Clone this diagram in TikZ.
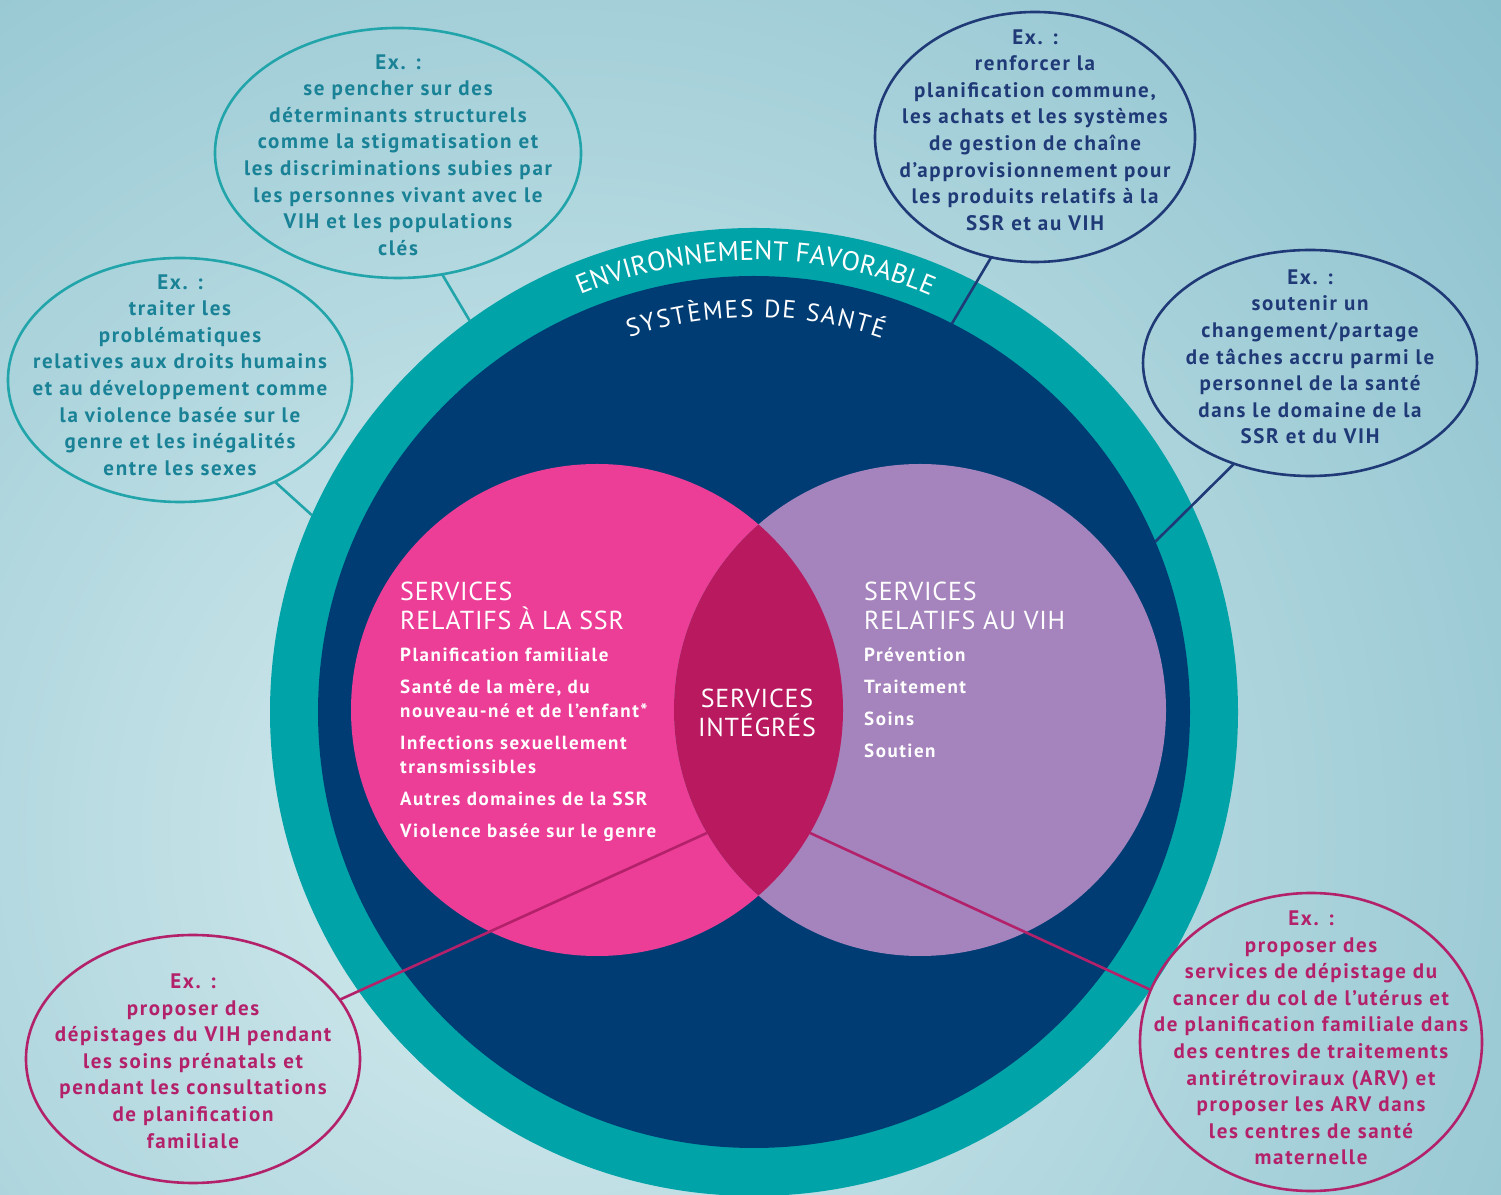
\documentclass[tikz,border=0pt]{standalone}
\usepackage{fontspec}
\setmainfont{PT Sans}[LetterSpace=8]
\newfontfamily\arcfont{PT Sans}
\newfontfamily\titlefont{PT Sans}[LetterSpace=3]
\usetikzlibrary{shapes.geometric,decorations.text}

\definecolor{bgin}{HTML}{D6ECEF}
\definecolor{bgout}{HTML}{88BFCC}
\definecolor{envteal}{HTML}{00A4A8}
\definecolor{sysnavy}{HTML}{003C74}
\definecolor{ssrpink}{HTML}{EC3E97}
\definecolor{vihmauve}{HTML}{A583BC}
\definecolor{intmag}{HTML}{B8195F}
\definecolor{tealink}{HTML}{1A8296}
\definecolor{tealline}{HTML}{22A5AA}
\definecolor{navyink}{HTML}{1F3A77}
\definecolor{magink}{HTML}{B3216B}

\begin{document}
\begin{tikzpicture}[x=1pt,y=1pt,
	disc/.style={circle,inner sep=0pt,outer sep=0pt},
	bubble/.style={ellipse,draw,line width=2.6pt,inner sep=0pt,outer sep=0pt},
	bubtext/.style={align=center,inner sep=0pt,font=\bfseries\fontsize{21}{26.6}\selectfont},
	link/.style={line width=2.6pt},
	title/.style={align=left,anchor=north west,inner sep=0pt,text=white,font=\titlefont\fontsize{26}{29}\selectfont},
	items/.style={align=left,anchor=north west,inner sep=0pt,text=white,font=\bfseries\fontsize{19}{24}\selectfont}]
	
	\useasboundingbox (0,0) rectangle (1501,1194);
	\begin{scope}
		\clip (0,0) rectangle (1501,1194);
		\shade[inner color=bgin,outer color=bgout] (560,360) circle (1300);
	\end{scope}
	
	% les cercles
	\node[disc,fill=envteal,minimum size=968pt] (env) at (754,482) {};
	\node[disc,fill=sysnavy,minimum size=872pt] (sys) at (754,482) {};
	\node[disc,fill=ssrpink,minimum size=492pt] (ssr) at (597,484) {};
	\node[disc,fill=vihmauve,minimum size=492pt] (vih) at (920,484) {};
	\begin{scope}
		\clip (ssr.center) circle (246);
		\fill[intmag] (vih.center) circle (246);
	\end{scope}
	
	% textes en arc
	\path[decorate,decoration={text along path,text align=fit to path,text color=white,
		text={|\arcfont\fontsize{27}{27}\selectfont|ENVIRONNEMENT FAVORABLE}}]
		([shift={(112.6:452)}]env.center) arc[start angle=112.6,end angle=67,radius=452];
	\path[decorate,decoration={text along path,text align=fit to path,text color=white,
		text={|\arcfont\fontsize{25}{25}\selectfont|SYSTÈMES DE SANTÉ}}]
		([shift={(108.4:395)}]sys.center) arc[start angle=108.4,end angle=71.1,radius=395];
	
	% services
	\node[title] (ssrtitle) at (400,612) {SERVICES\\RELATIFS À LA SSR};
	\node[items] (ssrlist) at (400,546) {Planification familiale\\[8pt]
		Santé de la mère, du\\nouveau-né et de l’enfant*\\[8pt]
		Infections sexuellement\\transmissibles\\[8pt]
		Autres domaines de la SSR\\[8pt]
		Violence basée sur le genre};
	\node[title] (vihtitle) at (864,612) {SERVICES\\RELATIFS AU VIH};
	\node[items] (vihlist) at (864,546) {Prévention\\[8pt]Traitement\\[8pt]Soins\\[8pt]Soutien};
	\node[title,anchor=center,align=center] (integ) at (757,481) {SERVICES\\INTÉGRÉS};
	
	% bulles
	\node[bubble,draw=tealline,minimum width=366pt,minimum height=250pt] (exA) at (398,1041) {};
	\node[bubtext,text=tealink] (exAtext) at (398,1039) {Ex. :\\se pencher sur des\\déterminants structurels\\comme la stigmatisation et\\les discriminations subies par\\les personnes vivant avec le\\VIH et les populations\\clés};
	
	\node[bubble,draw=tealline,minimum width=344pt,minimum height=244pt] (exB) at (180,814) {};
	\node[bubtext,text=tealink] (exBtext) at (180,819) {Ex. :\\traiter les\\problématiques\\relatives aux droits humains\\et au développement comme\\la violence basée sur le\\genre et les inégalités\\entre les sexes};
	
	\node[bubble,draw=navyink,minimum width=320pt,minimum height=250pt] (exC) at (1035,1057) {};
	\node[bubtext,text=navyink] (exCtext) at (1035,1064) {Ex. :\\renforcer la\\planification commune,\\les achats et les systèmes\\de gestion de chaîne\\d’approvisionnement pour\\les produits relatifs à la\\SSR et au VIH};
	
	\node[bubble,draw=navyink,minimum width=334pt,minimum height=226pt] (exD) at (1310,831) {};
	\node[bubtext,text=navyink] (exDtext) at (1310,837) {Ex. :\\soutenir un\\changement/partage\\de tâches accru parmi le\\personnel de la santé\\dans le domaine de la\\SSR et du VIH};
	
	\node[bubble,draw=magink,minimum width=334pt,minimum height=248pt] (exE) at (193,135) {};
	\node[bubtext,text=magink] (exEtext) at (193,133) {Ex. :\\proposer des\\dépistages du VIH pendant\\les soins prénatals et\\pendant les consultations\\de planification\\familiale};
	
	\node[bubble,draw=magink,minimum width=342pt,minimum height=298pt] (exF) at (1311,152) {};
	\node[bubtext,text=magink] (exFtext) at (1311,156) {Ex. :\\proposer des\\services de dépistage du\\cancer du col de l’utérus et\\de planification familiale dans\\des centres de traitements\\antirétroviraux (ARV) et\\proposer les ARV dans\\les centres de santé\\maternelle};
	
	% liens
	\draw[link,tealline] (exA.-70) -- (env.126.5);
	\draw[link,tealline] (exB.-47) -- (env.156.8);
	\draw[link,navyink] (exC.-110) -- (sys.63.8);
	\draw[link,navyink] (exD.-127) -- (sys.23.6);
	\draw[link,magink] (exE.22) -- (vih.210);
	\draw[link,magink] (exF.162) -- (ssr.-30);
\end{tikzpicture}
\end{document}
